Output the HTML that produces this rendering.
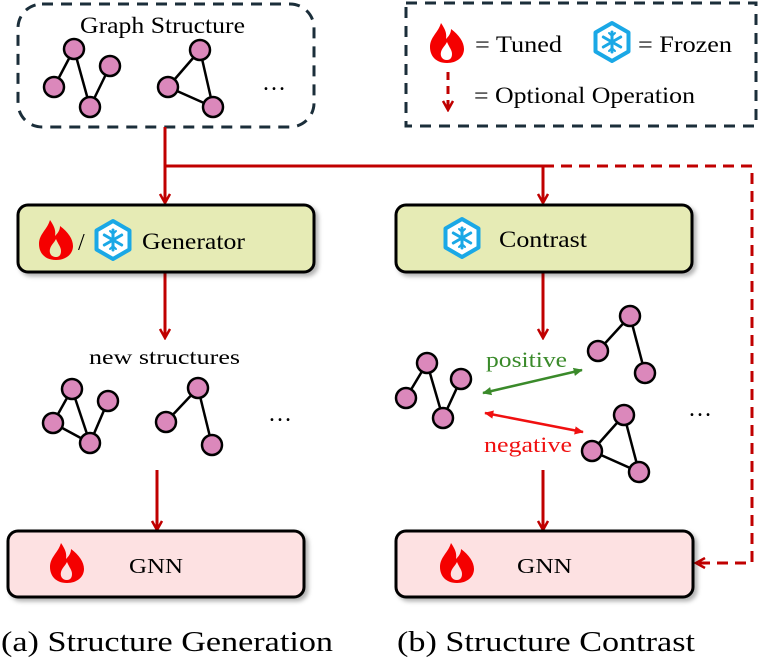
<!DOCTYPE html>
<html><head><meta charset="utf-8"><style>
html,body{margin:0;padding:0;background:#fff}
svg{display:block}
svg text{font-family:"Liberation Serif","Times New Roman",Times,"DejaVu Serif",serif}
</style></head><body>
<svg width="758" height="666" viewBox="0 0 758 666" xmlns="http://www.w3.org/2000/svg">
<defs>
<g id="fire"><path fill="#f50000" fill-rule="evenodd" d="M0,20 C-12,20 -17,12 -17,4 C-17,-6 -9,-10 -6,-20 C-2,-14 0,-10 -1,-4 C2,-7 4,-10 4,-14 C12,-8 17,-1 17,6 C17,14 10,20 0,20 Z M0,17 C-5,17 -7,13 -6,9 C-5,5 -2,3 0,-1 C2,4 5,7 5,11 C5,15 3,17 0,17Z"/></g>
<g id="snow">
<polygon points="0,-19 16.5,-9.5 16.5,9.5 0,19 -16.5,9.5 -16.5,-9.5" fill="#fff" stroke="#1aa8e6" stroke-width="4" stroke-linejoin="round"/>
<g stroke="#1aa8e6" stroke-width="3" stroke-linecap="round">
<line x1="0" y1="-10" x2="0" y2="10"/><line x1="-8.7" y1="-5" x2="8.7" y2="5"/><line x1="-8.7" y1="5" x2="8.7" y2="-5"/>
<path d="M-3,-9 L0,-6 L3,-9 M-3,9 L0,6 L3,9" fill="none" stroke-width="2"/>
</g></g>
<marker id="ah" viewBox="0 0 12 12" refX="10" refY="6" markerWidth="12" markerHeight="12" markerUnits="userSpaceOnUse" orient="auto"><path d="M1,1 L10,6 L1,11" fill="none" stroke="#c00000" stroke-width="2.5"/></marker>
<marker id="ag" viewBox="0 0 12 12" refX="10" refY="6" markerWidth="10" markerHeight="10" markerUnits="userSpaceOnUse" orient="auto-start-reverse"><path d="M0,1 L11,6 L0,11 Z" fill="#3a8a2a"/></marker>
<marker id="ar" viewBox="0 0 12 12" refX="10" refY="6" markerWidth="10" markerHeight="10" markerUnits="userSpaceOnUse" orient="auto-start-reverse"><path d="M0,1 L11,6 L0,11 Z" fill="#f01010"/></marker>
<filter id="sh" x="-5%" y="-10%" width="115%" height="130%"><feDropShadow dx="3" dy="3" stdDeviation="2" flood-color="#000" flood-opacity="0.3"/></filter>
</defs>

<rect x="18" y="4" width="296" height="123" rx="24" fill="none" stroke="#1b2e3a" stroke-width="3" stroke-dasharray="11,8"/>
<text x="80" y="33" font-size="23" textLength="165" lengthAdjust="spacingAndGlyphs">Graph Structure</text>
<g stroke="#000" stroke-width="2.5" fill="#db88bb">
<line x1="74" y1="49" x2="54" y2="87"/><line x1="74" y1="49" x2="90" y2="107"/><line x1="90" y1="107" x2="110" y2="66"/>
<line x1="200" y1="50" x2="168" y2="87"/><line x1="200" y1="50" x2="213" y2="107"/><line x1="168" y1="87" x2="213" y2="107"/>
<circle cx="74" cy="49" r="10"/><circle cx="54" cy="87" r="10"/><circle cx="90" cy="107" r="10"/><circle cx="110" cy="66" r="10"/>
<circle cx="200" cy="50" r="10"/><circle cx="168" cy="87" r="10"/><circle cx="213" cy="107" r="10"/>
</g>
<text x="274" y="90" font-size="24" text-anchor="middle">…</text>

<rect x="406" y="3" width="350" height="123" fill="none" stroke="#1b2e3a" stroke-width="3" stroke-dasharray="11,8"/>
<use href="#fire" x="447" y="43"/>
<text x="475" y="52" font-size="23" textLength="87" lengthAdjust="spacingAndGlyphs">= Tuned</text>
<use href="#snow" x="612" y="42"/>
<text x="638" y="52" font-size="23" textLength="94" lengthAdjust="spacingAndGlyphs">= Frozen</text>
<line x1="448" y1="72" x2="448" y2="110" stroke="#c00000" stroke-width="3" stroke-dasharray="8,6" marker-end="url(#ah)"/>
<text x="474" y="103" font-size="23" textLength="221" lengthAdjust="spacingAndGlyphs">= Optional Operation</text>

<g stroke="#c00000" stroke-width="3" fill="none">
<line x1="165" y1="127" x2="165" y2="203" marker-end="url(#ah)"/>
<line x1="165" y1="166" x2="543" y2="166"/>
<line x1="543" y1="166" x2="543" y2="203" marker-end="url(#ah)"/>
<polyline points="543,166 752,166 752,563 696,563" stroke-dasharray="11,7" marker-end="url(#ah)"/>
<line x1="165" y1="272" x2="165" y2="338" marker-end="url(#ah)"/>
<line x1="157" y1="470" x2="157" y2="530" marker-end="url(#ah)"/>
<line x1="543" y1="272" x2="543" y2="338" marker-end="url(#ah)"/>
<line x1="543" y1="470" x2="543" y2="530" marker-end="url(#ah)"/>
</g>

<rect x="18" y="205" width="296" height="67" rx="10" fill="#e6ebb5" stroke="#000" stroke-width="3" filter="url(#sh)"/>
<use href="#fire" x="56" y="240"/>
<text x="78" y="250" font-size="24">/</text>
<use href="#snow" x="113" y="240"/>
<text x="142" y="249" font-size="23" textLength="103" lengthAdjust="spacingAndGlyphs">Generator</text>

<rect x="396" y="205" width="296" height="67" rx="10" fill="#e6ebb5" stroke="#000" stroke-width="3" filter="url(#sh)"/>
<use href="#snow" x="462" y="238"/>
<text x="499" y="247" font-size="23" textLength="88" lengthAdjust="spacingAndGlyphs">Contrast</text>

<text x="89" y="364" font-size="21" textLength="151" lengthAdjust="spacingAndGlyphs">new structures</text>
<g stroke="#000" stroke-width="2.5" fill="#db88bb">
<line x1="72" y1="389" x2="53" y2="423"/><line x1="72" y1="389" x2="90" y2="443"/><line x1="53" y1="423" x2="90" y2="443"/><line x1="90" y1="443" x2="108" y2="401"/>
<line x1="198" y1="388" x2="166" y2="422"/><line x1="198" y1="388" x2="212" y2="445"/>
<circle cx="72" cy="389" r="10"/><circle cx="53" cy="423" r="10"/><circle cx="90" cy="443" r="10"/><circle cx="108" cy="401" r="10"/>
<circle cx="198" cy="388" r="10"/><circle cx="166" cy="422" r="10"/><circle cx="212" cy="445" r="10"/>
</g>
<text x="280" y="421" font-size="24" text-anchor="middle">…</text>

<g stroke="#000" stroke-width="2.5" fill="#db88bb">
<line x1="427" y1="363" x2="406" y2="398"/><line x1="427" y1="363" x2="443" y2="418"/><line x1="443" y1="418" x2="461" y2="379"/>
<line x1="630" y1="316" x2="598" y2="351"/><line x1="630" y1="316" x2="645" y2="373"/>
<line x1="624" y1="415" x2="592" y2="451"/><line x1="624" y1="415" x2="639" y2="472"/><line x1="592" y1="451" x2="639" y2="472"/>
<circle cx="427" cy="363" r="10"/><circle cx="406" cy="398" r="10"/><circle cx="443" cy="418" r="10"/><circle cx="461" cy="379" r="10"/>
<circle cx="630" cy="316" r="10"/><circle cx="598" cy="351" r="10"/><circle cx="645" cy="373" r="10"/>
<circle cx="624" cy="415" r="10"/><circle cx="592" cy="451" r="10"/><circle cx="639" cy="472" r="10"/>
</g>
<text x="486" y="367" font-size="22" fill="#3a8a2a" textLength="81" lengthAdjust="spacingAndGlyphs">positive</text>
<line x1="483" y1="393" x2="582" y2="370" stroke="#3a8a2a" stroke-width="2.5" marker-start="url(#ag)" marker-end="url(#ag)"/>
<line x1="485" y1="413" x2="583" y2="432" stroke="#f01010" stroke-width="2.5" marker-start="url(#ar)" marker-end="url(#ar)"/>
<text x="484" y="452" font-size="22" fill="#f01010" textLength="88" lengthAdjust="spacingAndGlyphs">negative</text>
<text x="700" y="416" font-size="24" text-anchor="middle">…</text>

<rect x="8" y="531" width="296" height="66" rx="10" fill="#fde1e2" stroke="#000" stroke-width="3" filter="url(#sh)"/>
<use href="#fire" x="67" y="563"/>
<text x="129" y="573" font-size="21" textLength="54" lengthAdjust="spacingAndGlyphs">GNN</text>
<rect x="396" y="531" width="297" height="66" rx="10" fill="#fde1e2" stroke="#000" stroke-width="3" filter="url(#sh)"/>
<use href="#fire" x="457" y="563"/>
<text x="517" y="573" font-size="21" textLength="55" lengthAdjust="spacingAndGlyphs">GNN</text>

<text x="1" y="651" font-size="29" textLength="332" lengthAdjust="spacingAndGlyphs">(a) Structure Generation</text>
<text x="397" y="651" font-size="29" textLength="298" lengthAdjust="spacingAndGlyphs">(b) Structure Contrast</text>
</svg>
</body></html>
